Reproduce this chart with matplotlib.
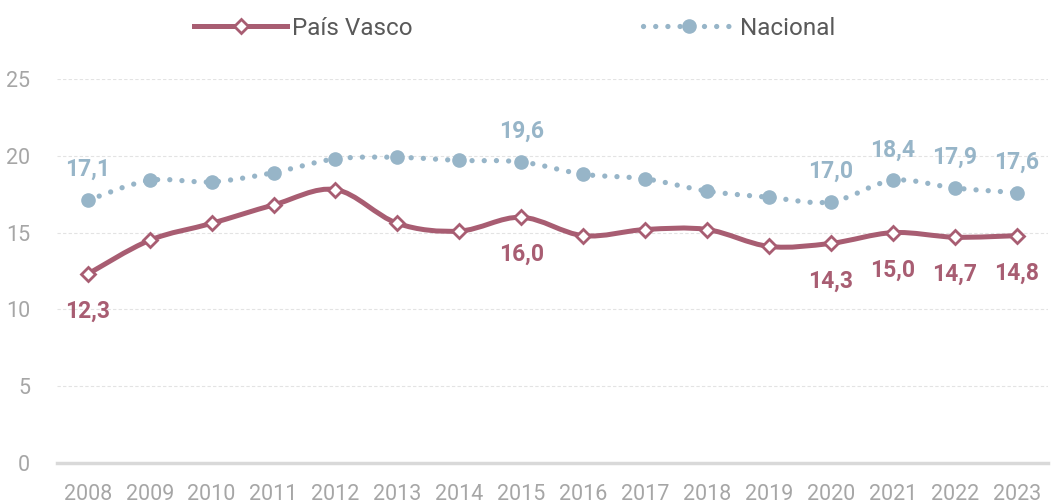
import matplotlib.pyplot as plt
import numpy as np
from matplotlib.path import Path
from matplotlib.patches import PathPatch
from matplotlib.lines import Line2D

years = list(range(2008, 2024))
pais_vasco = [12.3, 14.5, 15.6, 16.8, 17.8, 15.6, 15.1, 16.0, 14.8, 15.2, 15.2, 14.1, 14.3, 15.0, 14.7, 14.8]
nacional = [17.1, 18.4, 18.3, 18.9, 19.8, 19.9, 19.7, 19.6, 18.8, 18.5, 17.7, 17.3, 17.0, 18.4, 17.9, 17.6]
etiquetas = [2008, 2015, 2020, 2021, 2022, 2023]

c_pv = '#A85D72'
c_nac = '#97B5C8'
c_txt = '#A6A6A6'

plt.rcParams['font.family'] = ['Roboto', 'DejaVu Sans']


def curva_suave(x, y):
    # curva bezier tipo "línea suavizada"
    x = np.asarray(x, float)
    y = np.asarray(y, float)
    n = len(x)
    verts = [(x[0], y[0])]
    codes = [Path.MOVETO]
    for i in range(n - 1):
        x0, y0 = (x[i - 1], y[i - 1]) if i > 0 else (x[i], y[i])
        x3, y3 = (x[i + 2], y[i + 2]) if i + 2 < n else (x[i + 1], y[i + 1])
        c1 = (x[i] + (x[i + 1] - x0) / 6, y[i] + (y[i + 1] - y0) / 6)
        c2 = (x[i + 1] - (x3 - x[i]) / 6, y[i + 1] - (y3 - y[i]) / 6)
        verts += [c1, c2, (x[i + 1], y[i + 1])]
        codes += [Path.CURVE4] * 3
    return Path(verts, codes)


fig = plt.figure(figsize=(10.51, 5.04), dpi=100)
ax = fig.add_axes([0.054, 0.0813, 0.943, 0.762])
xs = np.arange(len(years))

ax.add_patch(PathPatch(curva_suave(xs, nacional), fill=False, edgecolor=c_nac,
                       linewidth=3.8, linestyle=(0, (0.01, 2.3)), capstyle='round', zorder=3))
ax.plot(xs, nacional, linestyle='none', marker='o', markersize=9.5, color=c_nac, zorder=4)

ax.add_patch(PathPatch(curva_suave(xs, pais_vasco), fill=False, edgecolor=c_pv,
                       linewidth=3.6, capstyle='round', joinstyle='round', zorder=3))
ax.plot(xs, pais_vasco, linestyle='none', marker='D', markersize=7.5, markerfacecolor='white',
        markeredgecolor=c_pv, markeredgewidth=2, zorder=4)

for i, yr in enumerate(years):
    if yr in etiquetas:
        ax.annotate(f'{nacional[i]:.1f}'.replace('.', ','), (xs[i], nacional[i]), xytext=(0, 22),
                    textcoords='offset points', ha='center', va='center', fontsize=16.5,
                    fontweight='bold', color=c_nac)
        ax.annotate(f'{pais_vasco[i]:.1f}'.replace('.', ','), (xs[i], pais_vasco[i]), xytext=(0, -27),
                    textcoords='offset points', ha='center', va='center', fontsize=16.5,
                    fontweight='bold', color=c_pv)

ax.set_xlim(-0.5, len(years) - 0.5)
ax.set_ylim(0, 25)
ax.set_yticks([0, 5, 10, 15, 20, 25])
ax.set_xticks(xs)
ax.set_xticklabels([str(y) for y in years])
ax.tick_params(axis='both', length=0, labelsize=15.5, labelcolor=c_txt)
ax.tick_params(axis='x', pad=15)
ax.tick_params(axis='y', pad=19)
ax.grid(axis='y', color='#E3E3E3', linestyle=(0, (3, 2)), linewidth=0.8)
ax.set_axisbelow(True)
for s in ['top', 'right', 'left']:
    ax.spines[s].set_visible(False)
ax.spines['bottom'].set_color('#D9D9D9')
ax.spines['bottom'].set_linewidth(2.5)

h_pv = Line2D([], [], color=c_pv, linewidth=3.6, marker='D', markersize=7.5,
              markerfacecolor='white', markeredgecolor=c_pv, markeredgewidth=2)
h_nac = Line2D([], [], color=c_nac, linewidth=3.8, linestyle=(0, (0.01, 2.3)),
               dash_capstyle='round', marker='o', markersize=9.5)
fig.legend([h_pv, h_nac], ['País Vasco', 'Nacional'], loc='upper center',
           bbox_to_anchor=(0.49, 1.01), ncol=2, frameon=False, fontsize=17.5,
           handlelength=3.8, handletextpad=0.2, columnspacing=9.5, labelcolor='#595959')

fig.savefig('out.png', dpi=100)
